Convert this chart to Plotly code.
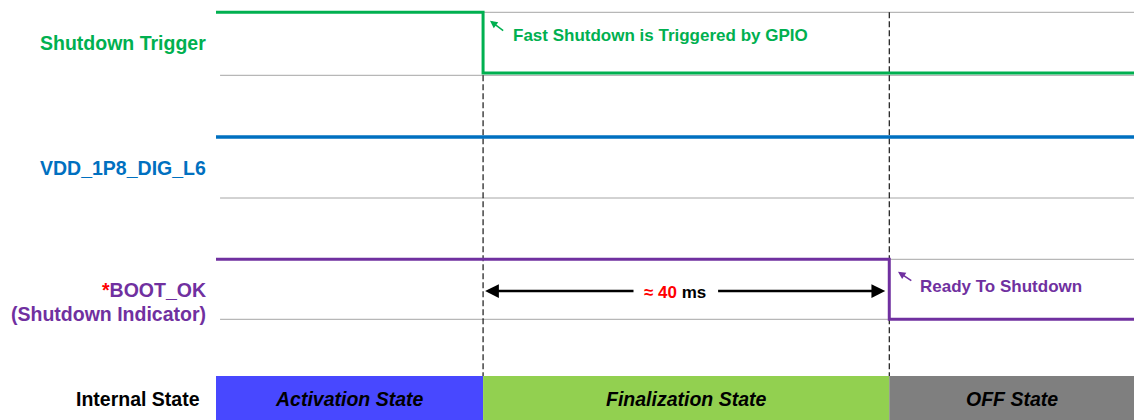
import plotly.graph_objects as go

# ---------------- data ----------------
signal_names = ["Shutdown Trigger", "VDD_1P8_DIG_L6", "BOOT_OK", "(Shutdown Indicator)"]
t_view = [-26.3, 64.1]                     # visible time window (ms)
trigger_t = [-26.3, 0, 64.1]               # Shutdown Trigger edges (ms)
trigger_lvl = [1, 0, 0]
vdd_t = [-26.3, 64.1]                      # VDD_1P8_DIG_L6 stays high
vdd_lvl = [1, 1]
bootok_t = [-26.3, 40, 64.1]               # BOOT_OK drops ~40 ms later
bootok_lvl = [1, 0, 0]
event_t = [0, 40]                          # trigger / ready events (ms)
state_names = ["Activation State", "Finalization State", "OFF State"]
state_start = [-26.3, 0, 40]
state_end = [0, 40, 64.1]
delay_label = "≈ 40"
delay_unit = "ms"
note_trigger = "Fast Shutdown is Triggered by GPIO"
note_ready = "Ready To Shutdown"

# ---------------- layout constants ----------------
W, H = 1134, 420
ML = 216
LANE_HIGH = [12.3, 137.0, 259.3]
LANE_LOW = [73.0, 198.0, 319.3]
GRID_Y = [12.3, 75.3, 137.0, 198.0, 259.3, 319.3]
STATE_TOP, STATE_BOT = 376, 420
GREEN, BLUE, PURPLE = "#00B050", "#0070C0", "#7030A0"
STATE_COLORS = ["#4848FF", "#92D050", "#7F7F7F"]
FONT = "Liberation Sans, Arial, sans-serif"

def lane_y(lane, levels):
    return [LANE_LOW[lane] + v * (LANE_HIGH[lane] - LANE_LOW[lane]) for v in levels]

fig = go.Figure()

shapes = []
# gray reference lines
for gy in GRID_Y:
    shapes.append(dict(type="line", xref="x", yref="y", x0=-25.9, x1=t_view[1], y0=gy, y1=gy,
                       line=dict(color="#A6A6A6", width=1), layer="below"))
# dashed event lines
shapes.append(dict(type="line", xref="x", yref="y", x0=event_t[0], x1=event_t[0], y0=GRID_Y[1], y1=STATE_TOP,
                   line=dict(color="#000000", width=1.1, dash="6px,3px"), layer="below"))
shapes.append(dict(type="line", xref="x", yref="y", x0=event_t[1], x1=event_t[1], y0=GRID_Y[0], y1=STATE_TOP,
                   line=dict(color="#000000", width=1.1, dash="6px,3px"), layer="below"))
# internal state bar
for s0, s1, c in zip(state_start, state_end, STATE_COLORS):
    shapes.append(dict(type="rect", xref="x", yref="y", x0=s0, x1=s1, y0=STATE_TOP, y1=STATE_BOT,
                       fillcolor=c, line=dict(width=0), layer="below"))

fig.add_trace(go.Scatter(x=trigger_t, y=lane_y(0, trigger_lvl), mode="lines", line_shape="hv",
                         line=dict(color=GREEN, width=3), hoverinfo="skip"))
fig.add_trace(go.Scatter(x=vdd_t, y=lane_y(1, vdd_lvl), mode="lines", line_shape="hv",
                         line=dict(color=BLUE, width=3.5), hoverinfo="skip"))
fig.add_trace(go.Scatter(x=bootok_t, y=lane_y(2, bootok_lvl), mode="lines", line_shape="hv",
                         line=dict(color=PURPLE, width=3), hoverinfo="skip"))

def px2x(p):
    return t_view[0] + (p - ML) * (t_view[1] - t_view[0]) / (W - ML)

def lab(text, y, color, size=19.5, x=-0.0087):
    return dict(xref="paper", yref="y", x=x, y=y, xanchor="right", yanchor="middle", text=text,
                showarrow=False, font=dict(family=FONT, size=size, color=color, weight="bold"))

ann = [
    lab(signal_names[0], 43.3, GREEN),
    lab(signal_names[1], 168.3, BLUE),
    lab("<span style='color:#FF0000'>*</span>" + signal_names[2], 290.0, PURPLE),
    lab(signal_names[3], 314.3, PURPLE),
    lab("Internal State", 399, "#000000", x=-0.0152),
]
# state labels
for s0, s1, name in zip(state_start, state_end, state_names):
    ann.append(dict(xref="x", yref="y", x=(s0 + s1) / 2, y=399, xanchor="center", yanchor="middle",
                    text=name, showarrow=False,
                    font=dict(family=FONT, size=19.5, color="#000000", weight="bold", style="italic")))
# trigger note
ann.append(dict(xref="x", yref="y", axref="x", ayref="y", x=px2x(490), y=20.7, ax=px2x(504.7), ay=31.7,
                text="", showarrow=True, arrowhead=2, arrowsize=1, arrowwidth=1.5, arrowcolor=GREEN))
ann.append(dict(xref="x", yref="y", x=px2x(511), y=35, xanchor="left", yanchor="middle", text=note_trigger,
                showarrow=False, font=dict(family=FONT, size=17, color=GREEN, weight="bold")))
# ready note
ann.append(dict(xref="x", yref="y", axref="x", ayref="y", x=px2x(898), y=271.7, ax=px2x(912.8), ay=281.7,
                text="", showarrow=True, arrowhead=2, arrowsize=1, arrowwidth=1.5, arrowcolor=PURPLE))
ann.append(dict(xref="x", yref="y", x=px2x(918), y=286.5, xanchor="left", yanchor="middle", text=note_ready,
                showarrow=False, font=dict(family=FONT, size=17, color=PURPLE, weight="bold")))
# delay arrows
ann.append(dict(xref="x", yref="y", axref="x", ayref="y", x=event_t[0] + 0.2, y=291, ax=px2x(635), ay=291,
                text="", showarrow=True, arrowhead=2, arrowsize=1.1, arrowwidth=2.5, arrowcolor="#000000"))
ann.append(dict(xref="x", yref="y", axref="x", ayref="y", x=event_t[1] - 0.4, y=291, ax=px2x(716.6), ay=291,
                text="", showarrow=True, arrowhead=2, arrowsize=1.1, arrowwidth=2.5, arrowcolor="#000000"))
ann.append(dict(xref="x", yref="y", x=px2x(675), y=292, xanchor="center", yanchor="middle",
                text="<span style='color:#FF0000'>" + delay_label + "</span> " + delay_unit,
                showarrow=False, font=dict(family=FONT, size=17, color="#000000", weight="bold")))

fig.update_layout(
    width=W, height=H, margin=dict(l=ML, r=0, t=0, b=0),
    paper_bgcolor="white", plot_bgcolor="white", showlegend=False,
    xaxis=dict(range=t_view, visible=False, fixedrange=True),
    yaxis=dict(range=[H, 0], visible=False, fixedrange=True),
    shapes=shapes, annotations=ann,
)
fig.write_html("out.html", config={"displayModeBar": False},
               post_script="document.body.style.margin='0px';document.body.style.overflow='hidden';")
